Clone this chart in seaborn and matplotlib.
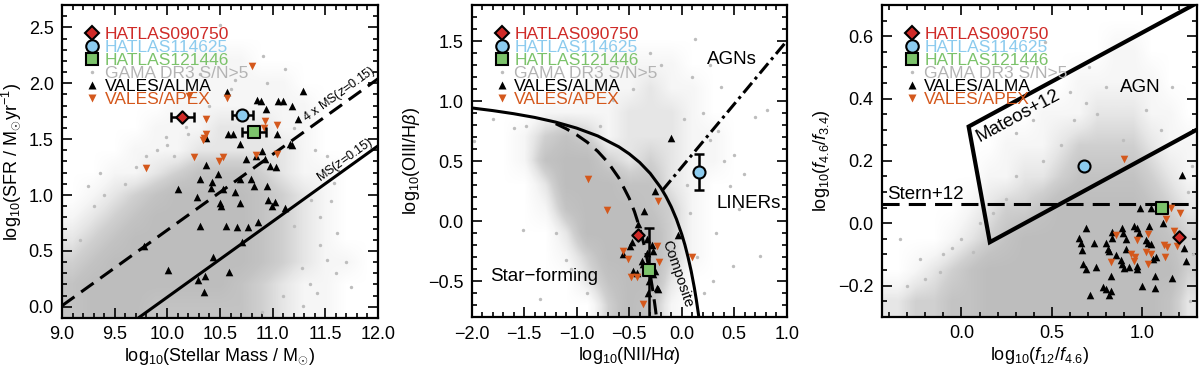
import numpy as np
import matplotlib
matplotlib.use('Agg')
import matplotlib.pyplot as plt
import seaborn as sns
from matplotlib.lines import Line2D
from matplotlib.ticker import MultipleLocator
from matplotlib.colors import LinearSegmentedColormap

sns.set_style('ticks')
plt.rcParams['font.family'] = ['Liberation Sans', 'DejaVu Sans']
plt.rcParams['mathtext.fontset'] = 'custom'
plt.rcParams['mathtext.rm'] = 'Liberation Sans'
plt.rcParams['mathtext.it'] = 'Liberation Sans:italic'
plt.rcParams['mathtext.bf'] = 'Liberation Sans:bold'
for k in ['text.color', 'axes.labelcolor', 'xtick.color', 'ytick.color', 'axes.edgecolor']:
    plt.rcParams[k] = 'black'

# colori
RED = '#cf2a27'
BLUE = '#8ccbee'
GREEN = '#7cc36b'
ORANGE = '#d4581c'
GRAY = '#bdbdbd'
GRAYTXT = '#b3b3b3'

# ---------------- Panel 1: SFR vs stellar mass ----------------
p1_alma_x = [10.57, 11.29, 10.85, 10.89, 11.05, 11.10, 11.18, 10.94, 10.58, 10.62, 10.69, 11.04,
             11.24, 11.16, 11.18, 10.90, 10.84, 10.93, 10.75, 10.97, 11.03, 10.37, 10.48, 10.31,
             10.42, 10.69, 10.79, 10.82, 10.95, 10.10, 10.28, 10.41, 10.50, 10.51, 10.69, 10.53,
             10.64, 10.96, 11.02, 10.99, 11.12, 10.31, 10.56, 10.66, 10.86, 10.77, 10.43, 9.78,
             10.01, 10.29, 10.36, 10.59, 10.35, 10.71, 10.37]
p1_alma_y = [1.92, 1.93, 1.85, 1.84, 1.84, 1.84, 1.80, 1.77, 1.55, 1.55, 1.46, 1.55,
             1.68, 1.46, 1.45, 1.39, 1.35, 1.32, 1.32, 1.26, 1.25, 1.27, 1.19, 1.14,
             1.12, 1.14, 1.14, 1.08, 1.08, 1.05, 0.98, 1.06, 0.93, 0.90, 0.93, 1.05,
             1.03, 0.96, 0.94, 0.90, 0.88, 0.72, 0.72, 0.71, 0.76, 0.71, 0.45, 0.54,
             0.33, 0.24, 0.28, 0.31, 0.13, 0.58, 1.51]
p1_apex_x = [10.80, 10.21, 10.57, 10.37, 10.37, 10.35, 10.34, 10.25, 10.49, 10.53, 9.80,
             10.93, 10.92, 11.04, 10.84, 11.04]
p1_apex_y = [2.15, 1.89, 1.87, 1.68, 1.55, 1.51, 1.49, 1.34, 1.30, 1.34, 1.24,
             1.66, 1.60, 1.63, 1.36, 1.37]
p1_hatlas_x = [10.14, 10.71, 10.82]
p1_hatlas_y = [1.70, 1.72, 1.56]
p1_hatlas_xerr = [0.11, 0.10, 0.115]
p1_ms_x = [9.0, 12.0]
p1_ms_y = [-0.59, 1.44]
p1_ms4_y = [0.01, 2.04]
p1_gama_x = [10.50, 10.31, 11.12, 10.91, 10.64, 9.99, 9.80, 9.25, 11.52, 11.61, 11.52, 11.28,
             11.29, 11.42, 11.74, 10.18, 10.06, 11.36, 11.58, 11.20, 9.17, 9.36, 11.45, 11.70,
             9.30, 9.40, 9.60, 9.70, 9.90, 10.00, 10.20, 10.40, 10.60, 10.95, 11.20, 11.40,
             11.45, 11.35, 11.60, 11.55, 10.90, 11.10]
p1_gama_y = [2.52, 2.08, 2.13, 2.24, 2.03, 1.52, 1.35, 1.08, 1.35, 0.66, 0.42, 0.35,
             0.01, 0.12, 0.18, 1.61, 1.35, 0.96, 1.11, 0.72, 0.60, 1.20, 0.80, 0.40,
             0.90, 1.00, 1.10, 1.25, 1.40, 1.45, 1.55, 1.80, 1.95, 2.00, 1.60, 1.40,
             0.55, 0.20, 0.30, 0.95, -0.05, 0.10]
# densita' della nube GAMA (righe dall'alto, celle 0.2 x 0.2)
p1_density = [
    "000000000000000",
    "000000000000000",
    "000000111000000",
    "000000111110000",
    "000001111111000",
    "000011122211000",
    "000111222221000",
    "001123444321100",
    "012345555432100",
    "123455555432100",
    "234555555432100",
    "345555555432110",
    "455555554321100",
    "455544444321100",
]

# ---------------- Panel 2: BPT ----------------
p2_alma_x = [-0.105, -0.251, -0.356, -0.413, -0.032, -0.476, -0.492, -0.556, -0.286, -0.270,
             -0.333, -0.381, -0.366, -0.461, -0.429, -0.254, -0.270, -0.238, -0.223, -0.318,
             -0.310, -0.330]
p2_alma_y = [0.693, 0.252, 0.083, -0.027, -0.111, -0.175, -0.208, -0.277, -0.194, -0.250,
             -0.263, -0.333, -0.352, -0.416, -0.430, -0.416, -0.443, -0.554, -0.568, -0.596,
             -0.500, -0.150]
p2_apex_x = [-0.889, -0.714, -0.223, -0.562, -0.508, -0.213, -0.486, -0.429, -0.366, 0.095, -0.238]
p2_apex_y = [0.355, 0.097, 0.166, -0.250, -0.313, -0.341, -0.463, -0.463, -0.693, -0.300, -0.208]
p2_hatlas_x = [-0.413, 0.168, -0.311]
p2_hatlas_y = [-0.111, 0.410, -0.410]
p2_circle_yerr = [0.15]
p2_square_yerr_lo = [0.45]
p2_square_yerr_hi = [0.35]
kew_x = [-2.0, -1.8, -1.6, -1.4, -1.2, -1.0, -0.8, -0.6, -0.5, -0.4, -0.3, -0.2, -0.15, -0.1,
         -0.05, 0.0, 0.03, 0.06, 0.09, 0.12, 0.14, 0.16, 0.165]
kew_y = [0.943, 0.921, 0.895, 0.864, 0.825, 0.775, 0.710, 0.620, 0.561, 0.489, 0.398, 0.280,
         0.206, 0.120, 0.017, -0.108, -0.196, -0.298, -0.415, -0.553, -0.659, -0.778, -0.810]
kau_x = [-1.2, -1.1, -1.0, -0.9, -0.8, -0.7, -0.6, -0.5, -0.45, -0.4, -0.35, -0.3, -0.27, -0.25, -0.24]
kau_y = [0.812, 0.770, 0.719, 0.658, 0.582, 0.487, 0.362, 0.191, 0.080, -0.056, -0.225, -0.443,
         -0.606, -0.733, -0.803]
liner_x = [-0.184, 1.0]
liner_y = [0.257, 1.5]
p2_gama_x = [-1.98, -1.48, 0.70, 0.81, 0.37, 0.13, 0.27, 0.59, 0.46, 0.33, 0.49, -1.51, -1.35,
             -1.10, 0.08, 0.75, 0.27, 0.02, -0.46, -0.65, -0.78, 0.21, 0.40, 0.55,
             -1.80, -1.60, -1.20, -1.05, -0.90, 0.20, 0.35, 0.50, 0.15, 0.30, 0.05, -0.20,
             -0.30, 0.10]
p2_gama_y = [0.67, 0.79, 0.87, 0.93, 1.12, 1.52, 1.30, 0.39, 0.29, -0.10, -0.37, -0.07, -0.65,
             -0.32, 0.07, -0.29, 0.68, 0.85, 1.10, 1.01, 0.79, -0.60, 0.50, 0.10,
             0.85, 0.78, -0.10, -0.40, -0.60, 0.90, 0.75, 0.55, -0.30, -0.50, 0.30, 1.30,
             1.40, 1.20]
p2_density = [
    "000000000000000",
    "000000000000000",
    "000000111100000",
    "000001112110000",
    "000111122210000",
    "001343122211000",
    "001455323211000",
    "000255544210000",
    "000145554310000",
    "000025555310000",
    "000013555310000",
    "000002455200000",
    "000000354100000",
]

# ---------------- Panel 3: WISE colours ----------------
p3_alma_x = [0.985, 1.046, 0.688, 0.651, 0.660, 0.666, 0.730, 0.669, 0.688, 0.743, 0.798, 0.807,
             0.816, 0.831, 0.834, 0.886, 0.893, 0.908, 0.954, 0.972, 0.981, 1.036, 1.021, 1.033,
             1.046, 0.908, 0.853, 0.880, 0.889, 0.899, 0.926, 0.968, 0.972, 1.058, 1.073, 0.826,
             1.069, 1.161, 1.238, 1.229, 0.783, 0.798, 0.826, 0.816, 0.996, 1.069, 0.710, 1.113,
             1.220]
p3_alma_y = [0.048, 0.050, -0.014, -0.046, -0.062, -0.085, -0.062, -0.131, -0.147, -0.141, -0.062, -0.083,
             -0.088, -0.028, -0.049, -0.014, -0.030, -0.051, -0.009, -0.017, -0.030, -0.009, -0.053, -0.062,
             -0.067, -0.083, -0.102, -0.118, -0.131, -0.145, -0.141, -0.147, -0.138, -0.115, -0.110, -0.170,
             -0.168, -0.177, -0.120, -0.081, -0.205, -0.211, -0.216, -0.230, -0.202, -0.208, -0.230, 0.002,
             0.153]
p3_apex_x = [1.156, 1.205, 1.132, 1.174, 1.192, 1.119, 1.137, 1.124, 0.853, 0.972, 1.031, 0.936,
             0.959, 0.954, 1.021, 1.046, 0.826, 1.031, 0.899]
p3_apex_y = [0.050, 0.032, 0.015, -0.025, -0.072, -0.070, -0.078, -0.110, -0.038, -0.053, -0.035, -0.099,
             -0.110, -0.120, -0.094, -0.099, -0.126, -0.131, 0.207]
p3_hatlas_x = [1.201, 0.679, 1.110]
p3_hatlas_y = [-0.044, 0.185, 0.050]
mateos_x = [1.30, 0.040, 0.157, 1.30]
mateos_y = [0.706, 0.310, -0.061, 0.300]
stern_x = [-0.44, 1.30]
stern_y = [0.06, 0.06]
p3_gama_x = [0.459, 0.706, 1.018, 0.798, 0.303, 0.394, 0.688, 1.165, 0.890, -0.340, -0.229,
             -0.119, 0.064, 0.248, 0.174, 1.275, 0.550, 0.620, 1.100, -0.050,
             -0.30, -0.20, -0.10, 0.00, 0.10, 0.30, 0.45, 0.60, 0.75, 0.90, 1.25, 1.28,
             1.26, 0.50]
p3_gama_y = [0.582, 0.502, 0.364, 0.438, 0.289, 0.332, 0.385, 0.438, 0.268, -0.051, -0.115,
             -0.157, -0.094, 0.077, 0.034, 0.183, 0.250, 0.330, 0.300, -0.080,
             -0.20, -0.18, -0.10, -0.05, 0.00, 0.15, 0.20, 0.42, 0.35, 0.45, 0.10, -0.10,
             -0.25, 0.05]
p3_density = [
    "000000000000000000",
    "000000000000011000",
    "000000000001111100",
    "000000000111222110",
    "000000011123333211",
    "000000112234444321",
    "000001233455555432",
    "000012345555555543",
    "001234555555555553",
    "223344555555555542",
]

legend_labels = ['HATLAS090750', 'HATLAS114625', 'HATLAS121446', 'GAMA DR3 S/N>5',
                 'VALES/ALMA', 'VALES/APEX']
legend_colors = [RED, BLUE, GREEN, GRAYTXT, 'black', ORANGE]

# livelli bassi quasi bianchi (punti sparsi), livelli alti grigio pieno
cloud_cmap = LinearSegmentedColormap.from_list(
    'cloud', [(0, 'white'), (0.2, '#f6f6f6'), (0.4, '#e6e6e6'), (0.6, '#d0d0d0'),
              (0.8, '#c3c3c3'), (1, '#bdbdbd')])


def draw_cloud(ax, grid, extent, gx, gy):
    dens = np.array([[int(c) for c in row] for row in grid], dtype=float)
    ax.imshow(dens, extent=extent, origin='upper', cmap=cloud_cmap, vmin=0, vmax=5,
              interpolation='bilinear', aspect='auto', zorder=0)
    sns.scatterplot(x=gx, y=gy, ax=ax, color=GRAY, s=6, linewidth=0, zorder=1)


def draw_vales(ax, ax_x, ax_y, ap_x, ap_y):
    sns.scatterplot(x=ax_x, y=ax_y, ax=ax, marker='^', color='black', s=30, linewidth=0, zorder=4)
    sns.scatterplot(x=ap_x, y=ap_y, ax=ax, marker='v', color=ORANGE, s=30, linewidth=0, zorder=4)


def draw_hatlas(ax, hx, hy):
    kw = dict(ax=ax, edgecolor='black', linewidth=1.5, zorder=6)
    sns.scatterplot(x=[hx[0]], y=[hy[0]], marker='D', color=RED, s=40, **kw)
    sns.scatterplot(x=[hx[1]], y=[hy[1]], marker='o', color=BLUE, s=75, **kw)
    sns.scatterplot(x=[hx[2]], y=[hy[2]], marker='s', color=GREEN, s=80, **kw)


def style_axis(ax, xlim, ylim, xmaj, xmin, ymaj, ymin):
    ax.set_xlim(xlim)
    ax.set_ylim(ylim)
    ax.xaxis.set_major_locator(MultipleLocator(xmaj))
    ax.xaxis.set_minor_locator(MultipleLocator(xmin))
    ax.yaxis.set_major_locator(MultipleLocator(ymaj))
    ax.yaxis.set_minor_locator(MultipleLocator(ymin))
    ax.tick_params(which='both', direction='in', top=True, right=True, labelsize=13,
                   width=1.2, colors='black')
    ax.tick_params(which='major', length=7, pad=6)
    ax.tick_params(which='minor', length=3.5)
    for s in ax.spines.values():
        s.set_visible(True)
        s.set_linewidth(1.6)
        s.set_color('black')


def add_legend(ax):
    handles = [
        Line2D([], [], ls='none', marker='D', mfc=RED, mec='black', mew=1.5, ms=7),
        Line2D([], [], ls='none', marker='o', mfc=BLUE, mec='black', mew=1.5, ms=9),
        Line2D([], [], ls='none', marker='s', mfc=GREEN, mec='black', mew=1.5, ms=9),
        Line2D([], [], ls='none', marker='o', mfc=GRAY, mec='none', ms=2.5),
        Line2D([], [], ls='none', marker='^', mfc='black', mec='none', ms=6),
        Line2D([], [], ls='none', marker='v', mfc=ORANGE, mec='none', ms=6),
    ]
    ax.legend(handles, legend_labels, loc='upper left', frameon=False, fontsize=12.5,
              labelcolor=legend_colors, handlelength=1.0, handletextpad=0.2,
              labelspacing=-0.12, borderaxespad=0.85, borderpad=0.4)


fig = plt.figure(figsize=(12, 3.71), dpi=100)
ax1 = fig.add_axes([0.0517, 0.1429, 0.2633, 0.8436])
ax2 = fig.add_axes([0.3931, 0.1447, 0.2625, 0.8418])
ax3 = fig.add_axes([0.7348, 0.1464, 0.2625, 0.8401])

# --- Panel 1 ---
draw_cloud(ax1, p1_density, [9.0, 12.0, -0.1, 2.7], p1_gama_x, p1_gama_y)
ax1.plot(p1_ms_x, p1_ms_y, color='black', lw=2.2, zorder=3)
ax1.plot(p1_ms_x, p1_ms4_y, color='black', lw=2.2, ls=(0, (5, 2.7)), zorder=3)
draw_vales(ax1, p1_alma_x, p1_alma_y, p1_apex_x, p1_apex_y)
ax1.errorbar(p1_hatlas_x, p1_hatlas_y, xerr=p1_hatlas_xerr, fmt='none', ecolor='black',
             elinewidth=1.8, capsize=3.5, capthick=1.8, zorder=5)
draw_hatlas(ax1, p1_hatlas_x, p1_hatlas_y)
ang1 = np.degrees(np.arctan2(p1_ms_y[1] - p1_ms_y[0], p1_ms_x[1] - p1_ms_x[0]))
ax1.text(11.69, 1.31, r'MS($z$=0.15)', fontsize=9, rotation=ang1, transform_rotates_text=True,
         rotation_mode='anchor', ha='center', va='center', zorder=7)
ax1.text(11.63, 1.90, r'4 x MS($z$=0.15)', fontsize=9, rotation=ang1, transform_rotates_text=True,
         rotation_mode='anchor', ha='center', va='center', zorder=7)
style_axis(ax1, (9.0, 12.0), (-0.1, 2.7), 0.5, 0.1, 0.5, 0.1)
ax1.set_xlabel(r'log$_{10}$(Stellar Mass / M$_{\odot}$)', fontsize=13, labelpad=2)
ax1.set_ylabel(r'log$_{10}$(SFR / M$_{\odot}$yr$^{-1}$)', fontsize=13, labelpad=4)
add_legend(ax1)

# --- Panel 2 ---
draw_cloud(ax2, p2_density, [-2.0, 1.0, -0.8, 1.8], p2_gama_x, p2_gama_y)
ax2.plot(kew_x, kew_y, color='black', lw=2.2, zorder=3)
ax2.plot(kau_x, kau_y, color='black', lw=2.2, ls=(0, (5, 2.7)), zorder=3)
ax2.plot(liner_x, liner_y, color='black', lw=2.2, ls=(0, (4.3, 1.5, 1.0, 1.5)), zorder=3)
draw_vales(ax2, p2_alma_x, p2_alma_y, p2_apex_x, p2_apex_y)
ax2.errorbar([p2_hatlas_x[1]], [p2_hatlas_y[1]], yerr=[p2_circle_yerr, p2_circle_yerr], fmt='none',
             ecolor='black', elinewidth=1.8, capsize=3.5, capthick=1.8, zorder=5)
ax2.errorbar([p2_hatlas_x[2]], [p2_hatlas_y[2]], yerr=[p2_square_yerr_lo, p2_square_yerr_hi],
             fmt='none', ecolor='black', elinewidth=1.8, capsize=3.5, capthick=1.8, zorder=5)
draw_hatlas(ax2, p2_hatlas_x, p2_hatlas_y)
ax2.text(0.48, 1.345, 'AGNs', fontsize=13.5, ha='center', va='center')
ax2.text(0.64, 0.147, 'LINERs', fontsize=13.5, ha='center', va='center')
ax2.text(-1.31, -0.457, 'Star\u2212forming', fontsize=13.5, ha='center', va='center')
ax2.text(-0.045, -0.44, 'Composite', fontsize=10.5, rotation=-71, ha='center', va='center',
         rotation_mode='anchor')
style_axis(ax2, (-2.0, 1.0), (-0.8, 1.8), 0.5, 0.1, 0.5, 0.1)
ax2.set_xlabel(r'log$_{10}$(NII/H$\alpha$)', fontsize=13, labelpad=2)
ax2.set_ylabel(r'log$_{10}$(OIII/H$\beta$)', fontsize=13, labelpad=4)
add_legend(ax2)

# --- Panel 3 ---
draw_cloud(ax3, p3_density, [-0.5, 1.3, -0.3, 0.7], p3_gama_x, p3_gama_y)
ax3.plot(mateos_x, mateos_y, color='black', lw=3, zorder=3, solid_joinstyle='miter')
ax3.plot(stern_x, stern_y, color='black', lw=2.2, ls=(0, (5.6, 3.0)), zorder=3)
draw_vales(ax3, p3_alma_x, p3_alma_y, p3_apex_x, p3_apex_y)
draw_hatlas(ax3, p3_hatlas_x, p3_hatlas_y)
ang3 = np.degrees(np.arctan2(mateos_y[0] - mateos_y[1], mateos_x[0] - mateos_x[1]))
ax3.text(0.312, 0.345, 'Mateos+12', fontsize=13.5, rotation=ang3, transform_rotates_text=True,
         rotation_mode='anchor', ha='center', va='center', zorder=7)
ax3.text(0.99, 0.436, 'AGN', fontsize=13.5, ha='center', va='center')
ax3.text(-0.20, 0.093, 'Stern+12', fontsize=13.5, ha='center', va='center')
style_axis(ax3, (-0.44, 1.3), (-0.3, 0.7), 0.5, 0.1, 0.2, 0.05)
ax3.set_xlabel(r'log$_{10}$($f_{12}$/$f_{4.6}$)', fontsize=13, labelpad=2)
ax3.set_ylabel(r'log$_{10}$($f_{4.6}$/$f_{3.4}$)', fontsize=13, labelpad=4)
add_legend(ax3)

fig.savefig('out.png', dpi=100)
